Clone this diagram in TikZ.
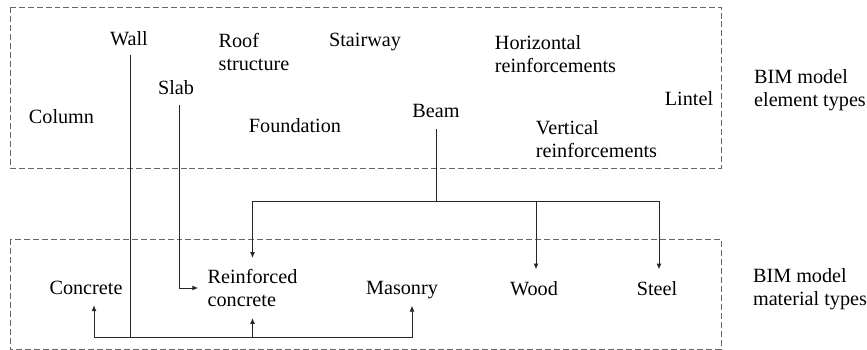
\documentclass[tikz,border=0pt]{standalone}
\usepackage{fontspec}
\setmainfont{LiberationSerif}[Extension=.ttf, UprightFont=*-Regular, BoldFont=*-Bold]
\usetikzlibrary{arrows.meta}
\begin{document}
\begin{tikzpicture}[x=0.02cm, y=-0.02cm, font=\fontsize{11.5}{13}\selectfont,
    txt/.style={inner sep=0pt, align=left},
    groupbox/.style={draw=black!60, dash pattern=on 3.4pt off 1.7pt, line width=0.5pt},
    conn/.style={draw=black!85, line width=0.55pt},
    arr/.style={conn, -{Latex[length=3.4pt, width=2.8pt]}}]
  \useasboundingbox (0,0) rectangle (867,350);
  \draw[groupbox] (10,7) rectangle (721,168);
  \draw[groupbox] (10,239) rectangle (721,349);
  % element types
  \node[txt] (wall) at (129,39) {Wall};
  \node[txt] (roof) at (254,52) {Roof\\structure};
  \node[txt] (stair) at (365,42.4) {Stairway};
  \node[txt] (hreinf) at (555.5,54) {Horizontal\\reinforcements};
  \node[txt] (slab) at (176,87.4) {Slab};
  \node[txt] (column) at (61.5,117) {Column};
  \node[txt] (found) at (295,125.8) {Foundation};
  \node[txt] (beam) at (436,111.4) {Beam};
  \node[txt] (lintel) at (689,99) {Lintel};
  \node[txt] (vreinf) at (596.5,139) {Vertical\\reinforcements};
  \node[txt] (elemtypes) at (810,90) {BIM model\\element types};
  % material types
  \node[txt] (concrete) at (86,288) {Concrete};
  \node[txt] (reinf) at (252.5,288) {Reinforced\\concrete};
  \node[txt] (masonry) at (402,290.4) {Masonry};
  \node[txt] (wood) at (534,289) {Wood};
  \node[txt] (steel) at (657,289) {Steel};
  \node[txt] (mattypes) at (810,289.5) {BIM model\\material types};
  % connectors
  \coordinate (wallbus) at (130,337);
  \coordinate (beambus) at (436,201);
  \draw[conn] ([shift={(1,8)}]wall.south) -- (wallbus);
  \draw[arr] (wallbus) -| ([shift={(8,10)}]concrete.south);
  \draw[arr] (wallbus) -| ([shift={(0,11)}]reinf.south);
  \draw[arr] (wallbus) -| ([shift={(10,6)}]masonry.south);
  \draw[arr] ([shift={(3,10)}]slab.south) |- ([shift={(-9,0)}]reinf.west);
  \draw[conn] ([shift={(0,11)}]beam.south) -- (beambus);
  \foreach \dest/\dx/\dy in {reinf/0/-11, wood/2/-12, steel/2/-12}
    \draw[arr] (beambus) -| ([shift={(\dx,\dy)}]\dest.north);
\end{tikzpicture}
\end{document}
